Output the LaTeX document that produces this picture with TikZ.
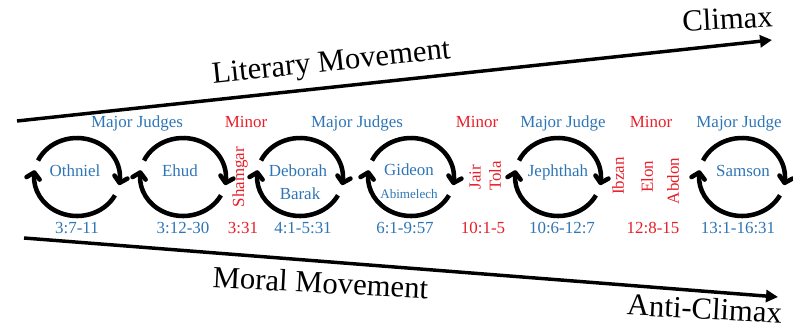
\documentclass[tikz,border=0pt]{standalone}
\usepackage{fontspec}
\setmainfont{LiberationSerif}[Extension=.ttf,UprightFont=*-Regular]
\usetikzlibrary{arrows.meta,bending}
\definecolor{judgeblue}{RGB}{46,117,182}
\definecolor{judgered}{RGB}{232,30,40}
\begin{document}
\begin{tikzpicture}[x=0.75pt,y=0.75pt,
    major/.style={text=judgeblue,font=\fontsize{12.7}{14}\selectfont,inner sep=0pt},
    minor/.style={text=judgered,font=\fontsize{12.7}{14}\selectfont,inner sep=0pt},
    big/.style={font=\fontsize{23}{26}\selectfont,inner sep=0pt,anchor=base},
    movement/.style={line width=2.6pt,-{Triangle[length=9pt,width=9pt]}},
    cyc/.style={line width=3.4pt,-{Straight Barb[round,length=4.5pt,width=10pt]}}]
    \useasboundingbox (0,0) rectangle (793,329);
            % the two movements
            \coordinate (lit-start) at (17,208);
            \coordinate (lit-end) at (772,289);
            \coordinate (mor-start) at (24,91);
            \coordinate (mor-end) at (778,32);
            \draw[movement] (lit-start) -- (lit-end);
            \draw[movement] (mor-start) -- (mor-end);
            \node[big,rotate=6] (literary) at (332,258) {Literary Movement};
            \node[big,rotate=3] (climax) at (728,300) {Climax};
            \node[big,rotate=-3] (moral) at (320,36) {Moral Movement};
            \node[big,rotate=-3] (anticlimax) at (704,10) {Anti-Climax};
            % cycles
            \coordinate (othniel) at (77,152);
            \coordinate (ehud) at (183,152);
            \coordinate (deborah) at (300,152);
            \coordinate (gideon) at (411,152);
            \coordinate (jephthah) at (558,152);
            \coordinate (samson) at (742,152);
            \draw[cyc] (othniel) ++(155:43 and 39) arc[start angle=155,end angle=-12,x radius=43,y radius=39];
            \draw[cyc] (othniel) ++(-28:43 and 39) arc[start angle=-28,end angle=-190,x radius=43,y radius=39];
            \draw[cyc] (ehud) ++(155:43 and 39) arc[start angle=155,end angle=-12,x radius=43,y radius=39];
            \draw[cyc] (ehud) ++(-28:43 and 39) arc[start angle=-28,end angle=-190,x radius=43,y radius=39];
            \draw[cyc] (deborah) ++(155:43 and 39) arc[start angle=155,end angle=-12,x radius=43,y radius=39];
            \draw[cyc] (deborah) ++(-28:43 and 39) arc[start angle=-28,end angle=-190,x radius=43,y radius=39];
            \draw[cyc] (gideon) ++(155:43 and 39) arc[start angle=155,end angle=-12,x radius=43,y radius=39];
            \draw[cyc] (gideon) ++(-28:43 and 39) arc[start angle=-28,end angle=-190,x radius=43,y radius=39];
            \draw[cyc] (jephthah) ++(155:43 and 39) arc[start angle=155,end angle=-12,x radius=43,y radius=39];
            \draw[cyc] (jephthah) ++(-28:43 and 39) arc[start angle=-28,end angle=-190,x radius=43,y radius=39];
            \draw[cyc] (samson) ++(155:43 and 39) arc[start angle=155,end angle=-12,x radius=43,y radius=39];
            \draw[cyc] (samson) ++(-28:43 and 39) arc[start angle=-28,end angle=-190,x radius=43,y radius=39];
            % headings
            \node[major,anchor=base] (head1) at (137,201) {Major Judges};
            \node[minor,anchor=base] (head2) at (246,201) {Minor};
            \node[major,anchor=base] (head3) at (357,201) {Major Judges};
            \node[minor,anchor=base] (head4) at (477,201) {Minor};
            \node[major,anchor=base] (head5) at (563,201) {Major Judge};
            \node[minor,anchor=base] (head6) at (651,201) {Minor};
            \node[major,anchor=base] (head7) at (739,201) {Major Judge};
            % judges
            \node[major,anchor=base] (n-othniel) at (75,152) {Othniel};
            \node[major,anchor=base] (n-ehud) at (180,152) {Ehud};
            \node[minor,rotate=90] (n-shamgar) at (240,152) {Shamgar};
            \node[major,anchor=base] (n-deborah) at (298,152) {Deborah};
            \node[major,anchor=base] (n-barak) at (300,129) {Barak};
            \node[major,anchor=base] (n-gideon) at (409,153) {Gideon};
            \node[major,anchor=base,font=\fontsize{9.8}{11}\selectfont] (n-abimelech) at (409,131) {Abimelech};
            \node[minor,rotate=90] (n-jair) at (475,152) {Jair};
            \node[minor,rotate=90] (n-tola) at (495,153) {Tola};
            \node[major,anchor=base] (n-jephthah) at (558,152) {Jephthah};
            \node[minor,rotate=90] (n-ibzan) at (618,153) {Ibzan};
            \node[minor,rotate=90] (n-elon) at (647,152) {Elon};
            \node[minor,rotate=90] (n-abdon) at (673,148) {Abdon};
            \node[major,anchor=base] (n-samson) at (743,152) {Samson};
            % passages
            \node[major,anchor=base] (r-othniel) at (77,96) {3:7-11};
            \node[major,anchor=base] (r-ehud) at (183,96) {3:12-30};
            \node[minor,anchor=base] (r-shamgar) at (243,96) {3:31};
            \node[major,anchor=base] (r-deborah) at (303,96) {4:1-5:31};
            \node[major,anchor=base] (r-gideon) at (405,96) {6:1-9:57};
            \node[minor,anchor=base] (r-jair) at (483,96) {10:1-5};
            \node[major,anchor=base] (r-jephthah) at (562,96) {10:6-12:7};
            \node[minor,anchor=base] (r-ibzan) at (653,96) {12:8-15};
            \node[major,anchor=base] (r-samson) at (738,96) {13:1-16:31};
        \end{tikzpicture}
\end{document}
